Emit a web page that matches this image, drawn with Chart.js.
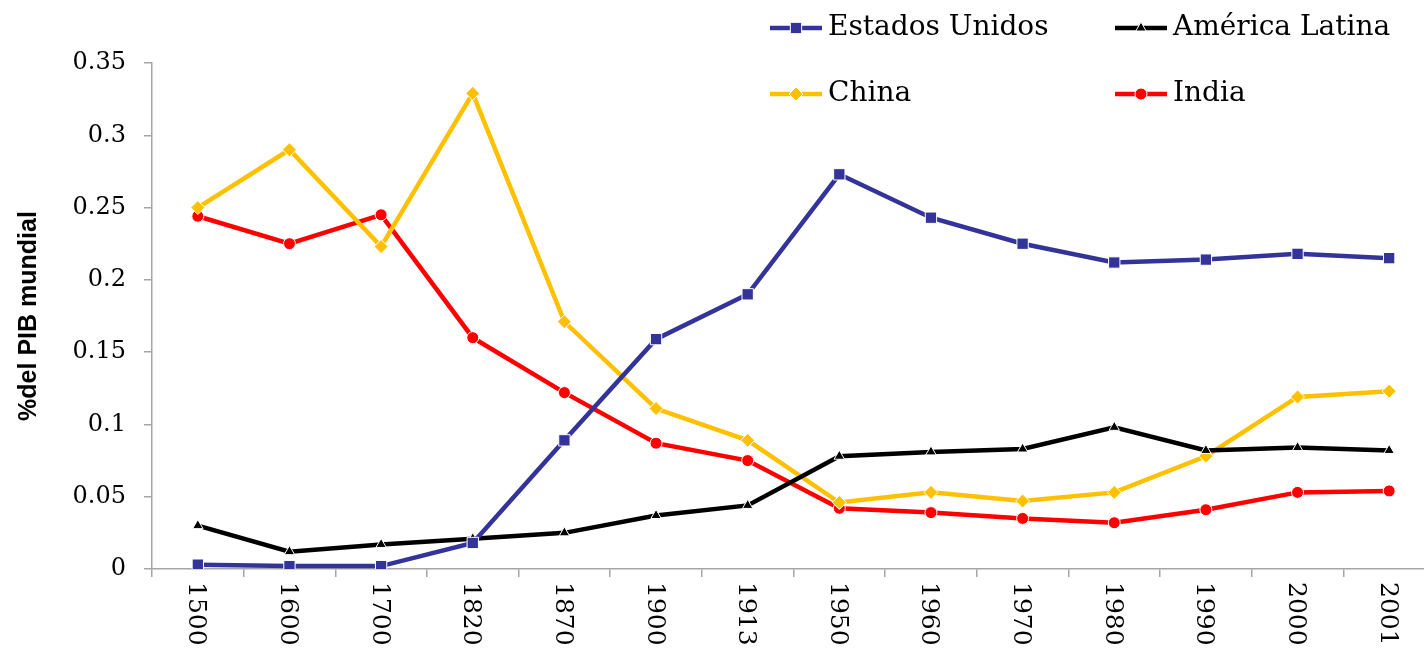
<!DOCTYPE html>
<html>
<head>
<meta charset="utf-8">
<script src="https://cdn.jsdelivr.net/npm/chart.js@4/dist/chart.umd.min.js"></script>
<style>
html, body { margin: 0; padding: 0; background: #fff; overflow: hidden; }
#wrap { position: relative; width: 1444px; height: 661px; }
</style>
</head>
<body>
<div id="wrap"><canvas id="pibChart"></canvas></div>
<script>
// años (categorías del eje x)
const years = ['1500', '1600', '1700', '1820', '1870', '1900', '1913', '1950', '1960', '1970', '1980', '1990', '2000', '2001'];

// % del PIB mundial
const estadosUnidos = [0.003, 0.002, 0.002, 0.018, 0.089, 0.159, 0.190, 0.273, 0.243, 0.225, 0.212, 0.214, 0.218, 0.215];
const americaLatina = [0.030, 0.012, 0.017, 0.021, 0.025, 0.037, 0.044, 0.078, 0.081, 0.083, 0.098, 0.082, 0.084, 0.082];
const china         = [0.250, 0.290, 0.223, 0.329, 0.171, 0.111, 0.089, 0.046, 0.053, 0.047, 0.053, 0.078, 0.119, 0.123];
const india         = [0.244, 0.225, 0.245, 0.160, 0.122, 0.087, 0.075, 0.042, 0.039, 0.035, 0.032, 0.041, 0.053, 0.054];

const yTicks = [0, 0.05, 0.1, 0.15, 0.2, 0.25, 0.3, 0.35];

const axisGrey = '#A6A6A6';
const serif = '"DejaVu Serif", serif';

function serie(label, data, color, style, radius){
    return {
        label: label,
        data: data,
        borderColor: color,
        backgroundColor: color,
        borderWidth: 4.5,
        pointStyle: style,
        pointRadius: radius,
        pointBackgroundColor: color,
        pointBorderColor: '#ffffff',
        pointBorderWidth: 1,
        tension: 0,
    };
}

// x-Achsen Beschriftung: senkrecht, von oben nach unten gelesen
const verticalLabels = {
    id: 'verticalLabels',
    afterDraw(chart){
        const ctx = chart.ctx;
        const xs = chart.scales.x;
        ctx.save();
        ctx.font = '25px ' + serif;
        ctx.fillStyle = '#000';
        ctx.textAlign = 'left';
        ctx.textBaseline = 'middle';
        years.forEach((y, i) => {
            const px = xs.getPixelForValue(i);
            ctx.save();
            ctx.translate(px - 2, xs.top + 13);
            ctx.rotate(Math.PI / 2);
            ctx.fillText(y, 0, 0);
            ctx.restore();
        });
        ctx.restore();
    }
};

// Legende oben rechts, 2 Spalten
const legendGrid = {
    id: 'legendGrid',
    afterDraw(chart){
        const ctx = chart.ctx;
        const pos = [[770, 28], [1115, 28], [770, 94], [1115, 94]];
        ctx.save();
        chart.data.datasets.forEach((ds, k) => {
            const [x, y] = pos[k];
            ctx.strokeStyle = ds.borderColor;
            ctx.lineWidth = 4.5;
            ctx.beginPath();
            ctx.moveTo(x, y);
            ctx.lineTo(x + 52, y);
            ctx.stroke();
            ctx.fillStyle = ds.borderColor;
            ctx.strokeStyle = '#ffffff';
            ctx.lineWidth = 1;
            Chart.helpers.drawPoint(ctx, {
                pointStyle: ds.pointStyle,
                radius: ds.pointRadius,
                borderWidth: 1,
                rotation: 0
            }, x + 26, y);
            ctx.fillStyle = '#000';
            ctx.font = '28px ' + serif;
            ctx.textAlign = 'left';
            ctx.textBaseline = 'middle';
            ctx.fillText(ds.label, x + 58, y);
        });
        ctx.restore();
    }
};

new Chart(document.getElementById('pibChart'), {
    type: 'line',
    data: {
        labels: years,
        datasets: [
            serie('Estados Unidos', estadosUnidos, '#333399', 'rect', 8),
            serie('América Latina', americaLatina, '#000000', 'triangle', 6),
            serie('China', china, '#FFC000', 'rectRot', 7),
            serie('India', india, '#FF0000', 'circle', 6),
        ]
    },
    options: {
        responsive: true,
        maintainAspectRatio: false,
        animation: false,
        layout: { padding: { left: 14, right: 8, top: 63, bottom: 0 } },
        plugins: {
            legend: { display: false },
            tooltip: { enabled: false },
        },
        scales: {
            x: {
                type: 'category',
                offset: true,
                grid: {
                    display: true,
                    offset: true,
                    drawOnChartArea: false,
                    color: axisGrey,
                    lineWidth: 1.5,
                    tickLength: 8,
                },
                border: { color: axisGrey, width: 1.5 },
                ticks: { display: false },
                afterFit: s => { s.height = 92; },
            },
            y: {
                min: 0,
                max: 0.35,
                afterBuildTicks: s => { s.ticks = yTicks.map(v => ({ value: v })); },
                grid: {
                    display: true,
                    drawOnChartArea: false,
                    color: axisGrey,
                    lineWidth: 1.5,
                    tickLength: 8,
                },
                border: { color: axisGrey, width: 1.5 },
                ticks: {
                    color: '#000',
                    font: { family: serif, size: 24 },
                    padding: 18,
                    callback: v => v === 0 ? '0' : String(+v.toFixed(2)),
                },
                title: {
                    display: true,
                    text: '%del PIB mundial',
                    color: '#000',
                    font: { family: '"Liberation Sans", Arial, sans-serif', size: 25, weight: 'bold' },
                    padding: { top: 0, bottom: 0 },
                },
                afterFit: s => { s.width = 138; },
            }
        }
    },
    plugins: [verticalLabels, legendGrid]
});
</script>
</body>
</html>
